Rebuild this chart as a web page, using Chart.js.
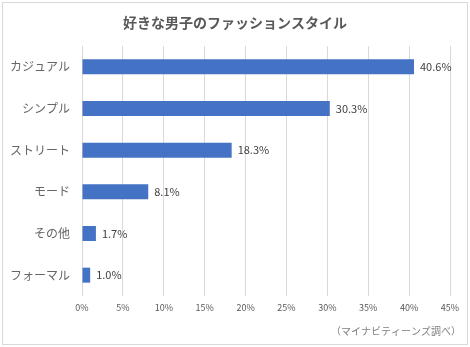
<!DOCTYPE html>
<html>
<head>
<meta charset="utf-8">
<script src="https://cdn.jsdelivr.net/npm/chart.js@4"></script>
<style>
  html, body { margin: 0; padding: 0; background: #fff; }
  #wrap { width: 470px; height: 347px; }
</style>
</head>
<body>
<div id="wrap"><canvas id="fashionChart" width="470" height="347"></canvas></div>
<script>
// Chart data
const styles = ['カジュアル', 'シンプル', 'ストリート', 'モード', 'その他', 'フォーマル'];
const shares = [40.6, 30.3, 18.3, 8.1, 1.7, 1.0];
const axisMax = 45;
const axisStep = 5;
const chartTitle = '好きな男子のファッションスタイル';
const sourceNote = '（マイナビティーンズ調べ）';

const jpFont = '"Noto Sans CJK JP", "Noto Sans", sans-serif';

// Value labels at the end of each bar
const valueLabels = {
    id: 'valueLabels',
    afterDatasetsDraw(chart) {
        const ctx = chart.ctx;
        const meta = chart.getDatasetMeta(0);
        ctx.save();
        ctx.font = '11px ' + jpFont;
        ctx.fillStyle = '#404040';
        ctx.textAlign = 'left';
        ctx.textBaseline = 'middle';
        meta.data.forEach((bar, i) => {
            ctx.fillText(shares[i].toFixed(1) + '%', bar.x + 6, bar.y);
        });
        ctx.restore();
    }
};

// Title centred on the whole frame, source note and outer frame
const frameAndNote = {
    id: 'frameAndNote',
    afterDraw(chart) {
        const ctx = chart.ctx;
        ctx.save();
        ctx.strokeStyle = '#d9d9d9';
        ctx.lineWidth = 1;
        ctx.strokeRect(2.5, 2.5, 465, 342);

        ctx.font = 'bold 14px ' + jpFont;
        ctx.fillStyle = '#595959';
        ctx.textAlign = 'center';
        ctx.textBaseline = 'middle';
        ctx.fillText(chartTitle, 235, 23);

        ctx.font = '10px ' + jpFont;
        ctx.fillStyle = '#7f7f7f';
        ctx.textAlign = 'right';
        ctx.fillText(sourceNote, 461, 331);
        ctx.restore();
    }
};

document.addEventListener('DOMContentLoaded', () => {
    const ctx = document.getElementById('fashionChart').getContext('2d');
    new Chart(ctx, {
        type: 'bar',
        data: {
            labels: styles,
            datasets: [{
                data: shares,
                backgroundColor: '#4472C4',
                borderWidth: 0,
                barPercentage: 0.9,
                categoryPercentage: 0.4
            }]
        },
        options: {
            indexAxis: 'y',
            responsive: false,
            animation: false,
            layout: { padding: { left: 2, right: 20, top: 46, bottom: 31 } },
            plugins: {
                legend: { display: false },
                tooltip: { enabled: false },
                title: { display: false }
            },
            scales: {
                x: {
                    min: 0,
                    max: axisMax,
                    ticks: {
                        stepSize: axisStep,
                        color: '#595959',
                        font: { family: jpFont, size: 9 },
                        padding: 6,
                        callback: v => v + '%'
                    },
                    grid: { color: '#d9d9d9', drawTicks: false },
                    border: { display: false },
                    afterFit: scale => { scale.height = 20; }
                },
                y: {
                    ticks: {
                        color: '#666666',
                        font: { family: jpFont, size: 12 },
                        padding: 12
                    },
                    grid: { display: false, drawTicks: false },
                    border: { display: false },
                    afterFit: scale => { scale.width = 80; }
                }
            }
        },
        plugins: [valueLabels, frameAndNote]
    });
});
</script>
</body>
</html>
